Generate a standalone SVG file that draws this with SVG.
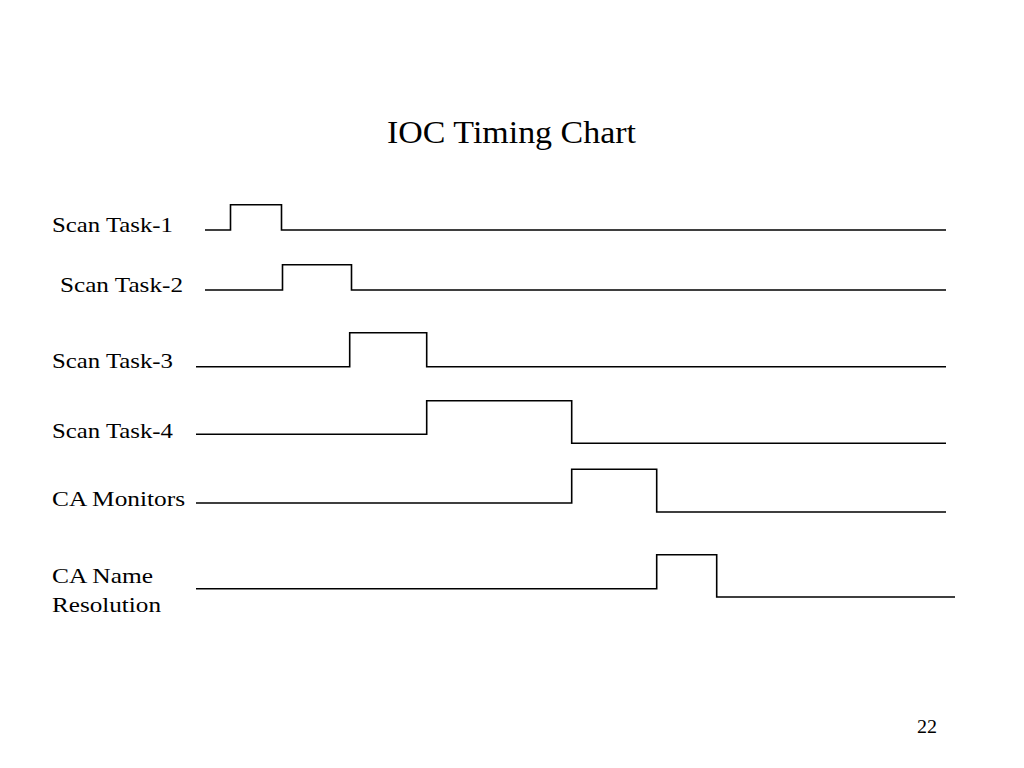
<svg xmlns="http://www.w3.org/2000/svg" width="1024" height="768" viewBox="0 0 1024 768">
<style>
text{font-family:"Liberation Serif","Times New Roman",serif;fill:#000}
.lbl{font-size:22px}
.sig{fill:none;stroke:#000;stroke-width:1.6}
</style>
<rect width="1024" height="768" fill="#fff"/>
<text x="387" y="143.3" font-size="32" textLength="249" lengthAdjust="spacingAndGlyphs">IOC Timing Chart</text>
<g id="label-scan1"><text class="lbl" x="52" y="231.7" textLength="121" lengthAdjust="spacingAndGlyphs">Scan Task-1</text></g>
<g id="label-scan2"><text class="lbl" x="60" y="291.7" textLength="123" lengthAdjust="spacingAndGlyphs">Scan Task-2</text></g>
<g id="label-scan3"><text class="lbl" x="52" y="368.3" textLength="121" lengthAdjust="spacingAndGlyphs">Scan Task-3</text></g>
<g id="label-scan4"><text class="lbl" x="52" y="437.7" textLength="121" lengthAdjust="spacingAndGlyphs">Scan Task-4</text></g>
<g id="label-camon"><text class="lbl" x="52" y="505.7" textLength="133" lengthAdjust="spacingAndGlyphs">CA Monitors</text></g>
<g id="label-caname"><text class="lbl" x="52" y="582.7" textLength="101" lengthAdjust="spacingAndGlyphs">CA Name</text><text class="lbl" x="52" y="611.7" textLength="109" lengthAdjust="spacingAndGlyphs">Resolution</text></g>
<g id="signals">
<polyline class="sig" points="205,230 230.5,230 230.5,204.7 281.5,204.7 281.5,230 946,230"/>
<polyline class="sig" points="205,290 282.5,290 282.5,264.7 351.5,264.7 351.5,290 946,290"/>
<polyline class="sig" points="196,366.7 349.7,366.7 349.7,332.7 426.7,332.7 426.7,366.7 946,366.7"/>
<polyline class="sig" points="196,434.3 426.7,434.3 426.7,400.7 571.7,400.7 571.7,443.3 946,443.3"/>
<polyline class="sig" points="196,503 571.7,503 571.7,469.3 656.7,469.3 656.7,512 946,512"/>
<polyline class="sig" points="196,588.7 656.7,588.7 656.7,554.7 716.7,554.7 716.7,597 955,597"/>
</g>
<text x="917" y="732.7" font-size="18" textLength="20" lengthAdjust="spacingAndGlyphs">22</text>
</svg>
